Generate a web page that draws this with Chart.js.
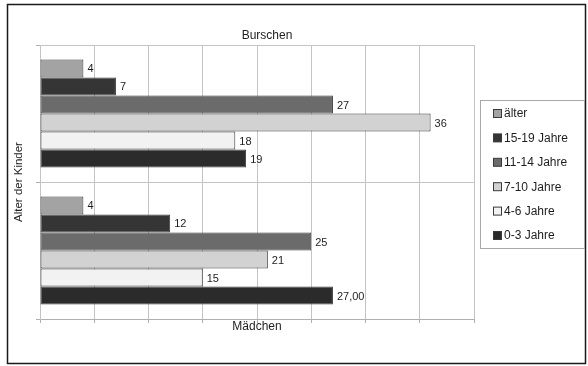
<!DOCTYPE html>
<html lang="de">
<head>
<meta charset="utf-8">
<title>Alter der Kinder – Burschen und Mädchen</title>
<script src="https://cdn.jsdelivr.net/npm/chart.js@4"></script>
<style>
  html, body { margin: 0; padding: 0; background: #ffffff; }
  #wrap { position: relative; width: 588px; height: 366px; }
</style>
</head>
<body>
<div id="wrap"><canvas id="chart" width="588" height="366"></canvas></div>
<script>
// Gruppen (Kategorien) und Altersklassen
const categories = ['Burschen', 'Mädchen'];
const seriesNames = ['älter', '15-19 Jahre', '11-14 Jahre', '7-10 Jahre', '4-6 Jahre', '0-3 Jahre'];

// Anzahl je Altersklasse: [Burschen, Mädchen]
const aelter = [4, 4];
const jahre15bis19 = [7, 12];
const jahre11bis14 = [27, 25];
const jahre7bis10 = [36, 21];
const jahre4bis6 = [18, 15];
const jahre0bis3 = [19, 27];

// Nachkommastellen der Wertbeschriftung je Altersklasse: [Burschen, Mädchen]
const labelDecimals = [[0, 0], [0, 0], [0, 0], [0, 0], [0, 0], [0, 2]];

// Achsenskala
const xMin = 0, xMax = 40, xStep = 5;

const seriesValues = [aelter, jahre15bis19, jahre11bis14, jahre7bis10, jahre4bis6, jahre0bis3];
const fills = ['#a3a3a3', '#353535', '#6b6b6b', '#d2d2d2', '#f2f2f2', '#2b2b2b'];

const FONT = '"Liberation Sans", Arial, sans-serif';

const datasets = seriesNames.map((name, i) => ({
  label: name,
  data: seriesValues[i],
  backgroundColor: fills[i],
  borderColor: '#3a3a3a',
  borderWidth: 1,
  borderSkipped: false,
  categoryPercentage: 0.79,
  barPercentage: 1.0
}));

// Rahmen, Beschriftungen und Legende
const decorations = {
  id: 'decorations',
  beforeDraw(chart) {
    const ctx = chart.ctx;
    ctx.save();
    ctx.fillStyle = '#ffffff';
    ctx.fillRect(0, 0, chart.width, chart.height);
    ctx.restore();
  },
  afterDatasetsDraw(chart) {
    const ctx = chart.ctx;
    ctx.save();
    ctx.font = '11px ' + FONT;
    ctx.fillStyle = '#1e1e1e';
    ctx.textAlign = 'left';
    ctx.textBaseline = 'middle';
    chart.data.datasets.forEach((ds, di) => {
      const meta = chart.getDatasetMeta(di);
      meta.data.forEach((bar, idx) => {
        const v = ds.data[idx];
        const dec = labelDecimals[di][idx];
        const txt = v.toFixed(dec).replace('.', ',');
        ctx.fillText(txt, bar.x + 4, bar.y + 1);
      });
    });
    ctx.restore();
  },
  afterDraw(chart) {
    const ctx = chart.ctx;
    const area = chart.chartArea;
    ctx.save();

    // äußerer Rahmen
    ctx.strokeStyle = '#1a1a1a';
    ctx.lineWidth = 1.5;
    ctx.strokeRect(7.5, 4.5, 578, 359);

    // Gruppenbeschriftungen
    ctx.fillStyle = '#1e1e1e';
    ctx.font = '12px ' + FONT;
    ctx.textAlign = 'center';
    ctx.textBaseline = 'middle';
    ctx.fillText(categories[0], 267, 36);
    ctx.fillText(categories[1], (area.left + area.right) / 2, 327);

    // Achsentitel
    ctx.save();
    ctx.translate(19, 182);
    ctx.rotate(-Math.PI / 2);
    ctx.font = '11.5px ' + FONT;
    ctx.fillText('Alter der Kinder', 0, 0);
    ctx.restore();

    // Legende
    ctx.strokeStyle = '#a8a8a8';
    ctx.lineWidth = 1;
    ctx.strokeRect(480.5, 100.5, 104, 148);
    ctx.font = '12px ' + FONT;
    ctx.textAlign = 'left';
    chart.data.datasets.forEach((ds, i) => {
      const cy = 113.5 + i * 24.4;
      ctx.fillStyle = ds.backgroundColor;
      ctx.fillRect(493.5, cy - 4, 8, 8);
      ctx.strokeStyle = '#3a3a3a';
      ctx.strokeRect(493.5, cy - 4, 8, 8);
      ctx.fillStyle = '#1e1e1e';
      ctx.fillText(ds.label, 504, cy + 0.5);
    });
    ctx.restore();
  }
};

new Chart(document.getElementById('chart'), {
  type: 'bar',
  data: { labels: categories, datasets },
  options: {
    indexAxis: 'y',
    responsive: false,
    animation: false,
    devicePixelRatio: 1,
    layout: { padding: { left: 36, right: 114, top: 45, bottom: 43 } },
    plugins: {
      legend: { display: false },
      tooltip: { enabled: false },
      title: { display: false }
    },
    scales: {
      x: {
        min: xMin,
        max: xMax,
        ticks: { display: false, stepSize: xStep },
        grid: { color: '#c4c4c4', lineWidth: 1, drawTicks: true, tickLength: 4, tickColor: '#b0b0b0' },
        border: { color: '#b0b0b0', width: 1 }
      },
      y: {
        ticks: { display: false },
        grid: { color: '#c4c4c4', lineWidth: 1, offset: true, drawTicks: true, tickLength: 4, tickColor: '#b0b0b0' },
        border: { color: '#c4c4c4', width: 1 }
      }
    }
  },
  plugins: [decorations]
});
</script>
</body>
</html>
